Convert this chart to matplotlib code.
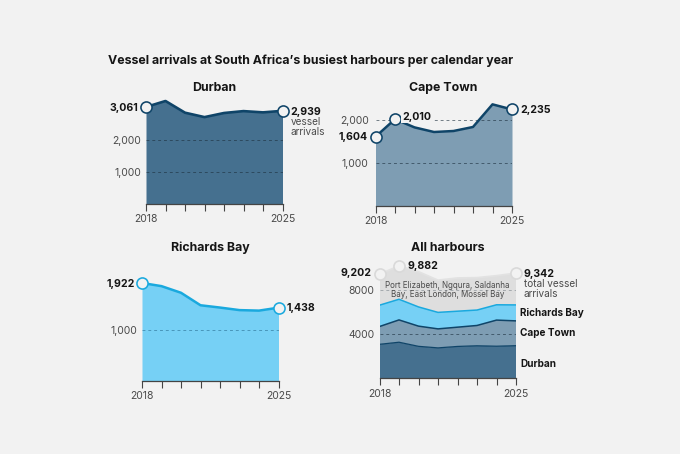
import matplotlib
matplotlib.use("Agg")
import matplotlib.pyplot as plt

plt.rcParams['font.family'] = ['Inter', 'DejaVu Sans']

years = [2018, 2019, 2020, 2021, 2022, 2023, 2024, 2025]
durban = [3061, 3250, 2880, 2740, 2870, 2930, 2890, 2939]
cape_town = [1604, 2010, 1820, 1713, 1736, 1829, 2353, 2235]
richards_bay = [1922, 1860, 1730, 1485, 1440, 1390, 1380, 1438]
other = [2800, 3000, 3170, 2900, 2990, 2915, 2620, 2860]
total = [a + b + c + d for a, b, c, d in zip(durban, cape_town, richards_bay, other)]

BG = '#f2f2f2'
W, H = 680, 454
INK = '#151515'
GREY = '#4a4a4a'
C_D, C_D_LINE = '#45708f', '#0f4468'
C_C, C_C_LINE = '#7e9db3', '#0f4468'
C_R, C_R_LINE = '#76d0f5', '#1aa9de'
C_O, C_O_LINE = '#dedede', '#e2e2e2'

fig = plt.figure(figsize=(W / 100, H / 100), dpi=100, facecolor=BG)


def make_axes(x0, x1, y_base, px_per_1000, y_top):
    ax = fig.add_axes([x0 / W, 1 - y_base / H, (x1 - x0) / W, (y_base - y_top) / H])
    ax.set_xlim(2018, 2025)
    ax.set_ylim(0, (y_base - y_top) / px_per_1000 * 1000)
    ax.patch.set_alpha(0)
    for s in ['top', 'left', 'right']:
        ax.spines[s].set_visible(False)
    ax.spines['bottom'].set_color('#444444')
    ax.spines['bottom'].set_linewidth(0.9)
    ax.set_xticks(years)
    ax.set_xticklabels(['2018', '', '', '', '', '', '', '2025'], fontsize=7.5, color=GREY)
    ax.tick_params(axis='x', length=5, width=0.8, color='#444444', pad=2.5)
    ax.tick_params(axis='y', length=0, pad=3.5, labelsize=7.5, labelcolor=GREY)
    return ax


def grid(ax, values, color='#1c2f3d', alpha=0.6):
    for v in values:
        ax.plot([2018, 2025], [v, v], color=color, lw=0.7, ls=(0, (3, 3)), zorder=3, alpha=alpha)


def ring(ax, x, y, edge, size=8.0, lw=1.15, z=6):
    ax.plot([x], [y], 'o', ms=size, mfc=BG, mec=edge, mew=lw, zorder=z, clip_on=False)


def num(ax, x, y, s, ha='left', dx=7, dy=0.7):
    ax.annotate(s, (x, y), xytext=(dx * 0.72, -dy * 0.72), textcoords='offset points',
                ha=ha, va='center', fontsize=7.6, fontweight='bold', color=INK, zorder=8,
                annotation_clip=False)


def title(x, y, s):
    fig.text(x / W, 1 - y / H, s, ha='center', va='center', fontsize=8.9,
             fontweight='bold', color=INK)


fig.text(108 / W, 1 - 60.5 / H, 'Vessel arrivals at South Africa’s busiest harbours per calendar year',
         ha='left', va='center', fontsize=8.9, fontweight='bold', color=INK)

# Durban
ax = make_axes(146, 282.5, 203.7, 31.6, 95)
ax.fill_between(years, durban, color=C_D, lw=0, zorder=1)
grid(ax, [1000, 2000])
ax.plot(years, durban, color=C_D_LINE, lw=1.9, zorder=4, clip_on=False, solid_joinstyle='round')
ax.set_yticks([1000, 2000])
ax.set_yticklabels(['1,000', '2,000'])
ring(ax, 2018, durban[0], C_D_LINE)
ring(ax, 2025, durban[-1], C_D_LINE)
num(ax, 2018, durban[0], '3,061', ha='right', dx=-7.5)
num(ax, 2025, durban[-1], '2,939', dx=8)
ax.annotate('vessel\narrivals', (2025, durban[-1]), xytext=(6, -4.5), textcoords='offset points',
            ha='left', va='top', fontsize=7.2, color=GREY, linespacing=0.98, annotation_clip=False)
title(214, 88, 'Durban')

# Cape Town
ax = make_axes(375.5, 512, 206, 43.2, 95)
ax.fill_between(years, cape_town, color=C_C, lw=0, zorder=1)
grid(ax, [1000, 2000])
ax.plot(years, cape_town, color=C_C_LINE, lw=1.8, zorder=4, clip_on=False, solid_joinstyle='round')
ax.set_yticks([1000, 2000])
ax.set_yticklabels(['1,000', '2,000'])
ax.tick_params(axis='y', pad=5)
ring(ax, 2018, cape_town[0], C_C_LINE)
ring(ax, 2019, cape_town[1], C_C_LINE)
ring(ax, 2025, cape_town[-1], C_C_LINE)
num(ax, 2018, cape_town[0], '1,604', ha='right', dx=-7.5)
ax.annotate('2,010', (2019, cape_town[1]), xytext=(5.5, 1.5), textcoords='offset points', ha='left',
            va='center', fontsize=7.6, fontweight='bold', color=INK, zorder=8,
            bbox=dict(fc=BG, ec='none', pad=1))
num(ax, 2025, cape_town[-1], '2,235', dx=8)
title(443.5, 88, 'Cape Town')

# Richards Bay
ax = make_axes(142, 278.5, 381, 51.0, 270)
ax.fill_between(years, richards_bay, color=C_R, lw=0, zorder=1)
grid(ax, [1000], color='#2a6f93')
ax.plot(years, richards_bay, color=C_R_LINE, lw=1.8, zorder=4, clip_on=False, solid_joinstyle='round')
ax.set_yticks([1000])
ax.set_yticklabels(['1,000'])
ring(ax, 2018, richards_bay[0], C_R_LINE)
ring(ax, 2025, richards_bay[-1], C_R_LINE)
num(ax, 2018, richards_bay[0], '1,922', ha='right', dx=-7.5)
num(ax, 2025, richards_bay[-1], '1,438', dx=8)
title(210, 248, 'Richards Bay')

# All harbours
ax = make_axes(379.5, 516, 378.3, 11.1, 255)
ax.stackplot(years, durban, cape_town, richards_bay, other,
             colors=[C_D, C_C, C_R, C_O], lw=0, zorder=1)
lower1 = durban
lower2 = [a + b for a, b in zip(durban, cape_town)]
lower3 = [a + b for a, b in zip(lower2, richards_bay)]
ax.plot(years, lower1, color=C_D_LINE, lw=0.9, zorder=4)
ax.plot(years, lower2, color=C_D_LINE, lw=1.1, zorder=4)
ax.plot(years, lower3, color=C_R_LINE, lw=1.1, zorder=4)
ax.plot(years, total, color=C_O_LINE, lw=1.3, zorder=4, clip_on=False)
grid(ax, [4000], alpha=0.6)
grid(ax, [8000], alpha=0.3)
ax.set_yticks([4000, 8000])
ax.set_yticklabels(['4000', '8000'])
ring(ax, 2018, total[0], '#d9d9d9', size=8.0, lw=1.2)
ring(ax, 2019, total[1], '#d9d9d9', size=8.0, lw=1.2)
ring(ax, 2025, total[-1], '#d9d9d9', size=8.0, lw=1.2)
num(ax, 2018, total[0], '9,202', ha='right', dx=-8, dy=-1.5)
num(ax, 2019, total[1], '9,882', dx=9, dy=0)
num(ax, 2025, total[-1], '9,342', dx=8, dy=0.5)
ax.annotate('total vessel\narrivals', (2025, total[-1]), xytext=(5.5, -4.5), textcoords='offset points',
            ha='left', va='top', fontsize=7.2, color=GREY, linespacing=0.98, annotation_clip=False)
fig.text(447.7 / W, 1 - 290 / H, 'Port Elizabeth, Ngqura, Saldanha\nBay, East London, Mossel Bay',
         ha='center', va='center', fontsize=5.75, color='#4a4a4a', linespacing=1.12, zorder=9)
for y, s in [(313, 'Richards Bay'), (333.5, 'Cape Town'), (364, 'Durban')]:
    fig.text(520 / W, 1 - y / H, s, ha='left', va='center', fontsize=7.2,
             fontweight='bold', color=INK)
title(448, 248, 'All harbours')

fig.savefig('out.png', dpi=100, facecolor=BG)
